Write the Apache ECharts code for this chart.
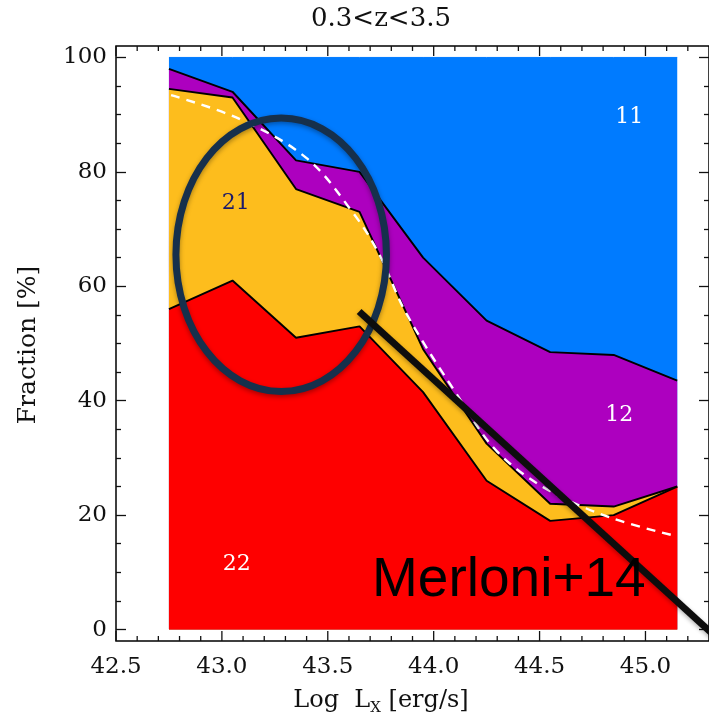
<!DOCTYPE html>
<html>
<head>
<meta charset="utf-8">
<script src="https://cdn.jsdelivr.net/npm/echarts@6/dist/echarts.min.js"></script>
<style>
  html, body { margin: 0; padding: 0; background: #fff; }
  #chart { width: 709px; height: 720px; }
</style>
</head>
<body>
<div id="chart"></div>
<script>
// Bin centres in log X-ray luminosity
const logLx = [42.75, 43.05, 43.35, 43.65, 43.95, 44.25, 44.55, 44.85, 45.15];
// Fraction (%) of each class per bin, stacked bottom to top: 22, 21, 12, 11
const frac22 = [56, 61, 51, 53, 41.5, 26, 19, 20, 25];
const frac21 = [38.5, 32, 26, 20, 7.5, 6.5, 3, 1.5, 0];
const frac12 = [3.5, 1, 5, 7, 16, 21.5, 26.5, 26.5, 18.5];
const frac11 = [2, 6, 18, 20, 35, 46, 51.5, 52, 56.5];
const classNames = ['22', '21', '12', '11'];

// Merloni+14 obscured-fraction curve
const modelLx   = [42.76, 43.08, 43.40, 43.62, 43.74, 43.87, 44.12, 44.30, 44.54, 44.84, 45.15];
const modelFrac = [93.4, 89.3, 82.4, 72.8, 65.8, 55.3, 40.5, 31.1, 24.4, 19.5, 16.3];

// Tick positions
const xMajorTicks = [42.5, 43.0, 43.5, 44.0, 44.5, 45.0];
const xMinorTicks = [];
for (let i = 426; i <= 452; i++) if (i % 5 !== 0) xMinorTicks.push(i / 10);
const yMajorTicks = [0, 20, 40, 60, 80, 100];
const yMinorTicks = [];
for (let v = 0; v <= 100; v += 5) if (v % 20 !== 0) yMinorTicks.push(v);

const X_MIN = 42.5, X_MAX = 45.3, Y_MIN = -2, Y_MAX = 102;

const labelFont = 'DejaVu Serif';
const ink = '#111';

function pairs(xs, ys) { return xs.map((x, i) => [x, ys[i]]); }

function yAxisDef(position, ticks, len, showLabel) {
  return {
    type: 'value', position, min: Y_MIN, max: Y_MAX, z: 20,
    axisLine: { show: false },
    splitLine: { show: false },
    axisTick: { show: true, inside: true, length: len, customValues: ticks,
                lineStyle: { color: ink, width: 1.3 } },
    axisLabel: showLabel ? {
      show: true, customValues: yMajorTicks, margin: 9,
      fontFamily: labelFont, fontSize: 23, color: ink
    } : { show: false }
  };
}

const xAxes = [{
  type: 'value', position: 'bottom', min: X_MIN, max: X_MAX, z: 20,
  axisLine: { show: false },
  splitLine: { show: false },
  axisTick: { show: false },
  axisLabel: {
    show: true, customValues: xMajorTicks, margin: 15,
    formatter: v => v.toFixed(1),
    fontFamily: labelFont, fontSize: 23, color: ink
  }
}];
const yAxes = [
  yAxisDef('left', yMajorTicks, 10, true),
  yAxisDef('left', yMinorTicks, 5, false),
  yAxisDef('right', yMajorTicks, 10, false),
  yAxisDef('right', yMinorTicks, 5, false)
];

// Cumulative tops of each class, bottom to top
const layers = [frac22, frac21, frac12, frac11];
const cumulative = [];
layers.forEach((vals, i) => {
  cumulative.push(vals.map((v, j) => v + (i ? cumulative[i - 1][j] : 0)));
});

const fills = ['#fe0000', '#fdbd1d', '#ad00bf', '#007bff'];

// Draw from the top class down so each lower band covers the one above it
const series = [];
for (let i = layers.length - 1; i >= 0; i--) {
  series.push({
    type: 'line',
    name: classNames[i],
    data: pairs(logLx, cumulative[i]),
    showSymbol: false,
    symbol: 'none',
    silent: true,
    lineStyle: i === layers.length - 1
      ? { color: fills[i], width: 1 }
      : { color: '#000', width: 1.9 },
    areaStyle: { color: fills[i], opacity: 1, origin: 'auto' },
    z: 2 + (layers.length - i)
  });
}

series.push({
  type: 'line',
  name: 'model',
  data: pairs(modelLx, modelFrac),
  smooth: 0.35,
  showSymbol: false,
  symbol: 'none',
  silent: true,
  lineStyle: { color: '#fff', width: 2.4, type: [9, 7] },
  z: 10
});

const chart = echarts.init(document.getElementById('chart'), null, { renderer: 'canvas' });
chart.setOption({
  animation: false,
  backgroundColor: '#fff',
  grid: {
    left: 116, top: 46, width: 595, height: 595,
    show: true, borderColor: '#000', borderWidth: 1.5, backgroundColor: 'transparent',
    containLabel: false
  },
  xAxis: xAxes,
  yAxis: yAxes,
  series
});

// Positions through the x/y scales of the plot
const px = (x, y) => chart.convertToPixel({ seriesIndex: 0 }, [x, y]);

const graphics = [];

// Inward ticks on the bottom and top frame edges
function frameTicks(values, len) {
  values.forEach(v => {
    const b = px(v, Y_MIN), t = px(v, Y_MAX);
    graphics.push({ type: 'line', z: 35, silent: true,
      shape: { x1: b[0], y1: b[1], x2: b[0], y2: b[1] - len },
      style: { stroke: ink, lineWidth: 1.3 } });
    graphics.push({ type: 'line', z: 35, silent: true,
      shape: { x1: t[0], y1: t[1], x2: t[0], y2: t[1] + len },
      style: { stroke: ink, lineWidth: 1.3 } });
  });
}
frameTicks(xMajorTicks, 10);
frameTicks(xMinorTicks, 5);

graphics.push(
  {
    type: 'text', x: 381, y: 19, z: 30,
    style: { text: '0.3<z<3.5', fill: ink, font: '26px "DejaVu Serif"',
             align: 'center', verticalAlign: 'middle' }
  },
  {
    type: 'text', x: 381, y: 701, z: 30,
    style: {
      text: '{n|Log  L}{s|X}{n| [erg/s]}',
      align: 'center', verticalAlign: 'middle',
      rich: {
        n: { font: '24px "DejaVu Serif"', fill: ink },
        s: { font: '15px "DejaVu Serif"', fill: ink, padding: [14, 0, 0, 0] }
      }
    }
  },
  {
    type: 'text', x: 28, y: 345, rotation: Math.PI / 2, z: 30,
    style: { text: 'Fraction [%]', fill: ink, font: '25px "DejaVu Serif"',
             align: 'center', verticalAlign: 'middle' }
  }
);

const regionLabels = [
  { text: '11', at: [44.924, 89.5], color: '#fff' },
  { text: '12', at: [44.876, 37.4], color: '#fff' },
  { text: '21', at: [43.065, 74.5], color: '#1b1a6a' },
  { text: '22', at: [43.07, 11.4], color: '#fff' }
];
regionLabels.forEach(l => {
  const p = px(l.at[0], l.at[1]);
  graphics.push({
    type: 'text', x: p[0], y: p[1], z: 30,
    style: { text: l.text, fill: l.color, font: '22px "DejaVu Serif"',
             align: 'center', verticalAlign: 'middle' }
  });
});

const ellC = px(43.28, 65.5);
const ellE = px(43.28 + 0.497, 65.5 + 23.9);
const lineA = px(43.648, 55.6);
const lineB = px(45.33, -1.2);
const noteAt = px(43.709, 13.3);

graphics.push({
  type: 'ellipse', z: 40,
  shape: { cx: ellC[0], cy: ellC[1], rx: ellE[0] - ellC[0], ry: ellC[1] - ellE[1] },
  style: { fill: 'none', stroke: '#16304c', lineWidth: 7,
           shadowBlur: 5, shadowColor: 'rgba(0,0,0,0.35)', shadowOffsetY: 2 }
});
graphics.push({
  type: 'line', z: 40,
  shape: { x1: lineA[0], y1: lineA[1], x2: lineB[0], y2: lineB[1] },
  style: { stroke: '#0d0d0d', lineWidth: 7,
           shadowBlur: 4, shadowColor: 'rgba(0,0,0,0.3)', shadowOffsetY: 2 }
});
graphics.push({
  type: 'text', x: noteAt[0], y: noteAt[1], z: 41,
  style: { text: 'Merloni+14', fill: '#000', font: '55px "Liberation Sans"',
           align: 'left', verticalAlign: 'top' }
});

chart.setOption({ graphic: graphics });
</script>
</body>
</html>
